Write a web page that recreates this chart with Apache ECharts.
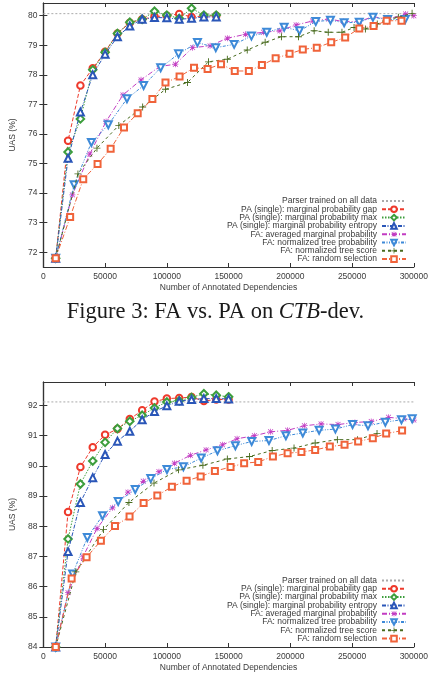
<!DOCTYPE html>
<html>
<head>
<meta charset="utf-8">
<script src="https://cdn.jsdelivr.net/npm/echarts@6/dist/echarts.min.js"></script>
<style>
  html, body { margin: 0; padding: 0; background: #fff; }
  #chart { width: 431px; height: 677px; }
</style>
</head>
<body>
<div id="chart"></div>
<script>
// ---- data ----
const xTicks = [0, 50000, 100000, 150000, 200000, 250000, 300000];
const yTicksTop = [72, 73, 74, 75, 76, 77, 78, 79, 80];
const yTicksBot = [84, 85, 86, 87, 88, 89, 90, 91, 92];

const seriesNames = [
  'Parser trained on all data',
  'PA (single): marginal probability gap',
  'PA (single): marginal probability max',
  'PA (single): marginal probability entropy',
  'FA: averaged marginal probability',
  'FA: normalized tree probability',
  'FA: normalized tree score',
  'FA: random selection'
];

// CTB-dev (upper panel)
const parserTop = 80.07;
const paXTop = [10000, 20000, 30000, 40000, 50000, 60000, 70000, 80000, 90000, 100000, 110000, 120000, 130000, 140000];
const gapTop = [71.8, 75.77, 77.64, 78.22, 78.78, 79.40, 79.76, 79.88, 79.97, 80.0, 80.06, 79.96, 79.99, 80.0];
const maxTop = [71.8, 75.39, 76.51, 78.17, 78.76, 79.40, 79.78, 79.88, 80.15, 80.02, 79.91, 80.25, 80.02, 80.02];
const entTop = [71.8, 75.18, 76.74, 78.0, 78.70, 79.29, 79.65, 79.88, 79.94, 79.93, 79.88, 79.91, 79.96, 79.96];
const avgXTop = [10000, 23500, 37600, 50800, 64500, 79100, 94200, 106900, 120900, 135000, 149000, 163700, 178300, 191500, 204700, 218000, 231200, 243100, 255800, 266900, 278800, 293400, 300000];
const avgTop = [71.8, 73.94, 75.32, 76.42, 77.32, 77.83, 78.28, 78.36, 78.92, 78.98, 79.24, 79.37, 79.44, 79.49, 79.69, 79.82, 79.89, 79.80, 79.80, 79.97, 79.88, 80.06, 80.0];
const probXTop = [10000, 24900, 38900, 52600, 67700, 81200, 95000, 109500, 124800, 139600, 154500, 168500, 180900, 195000, 207400, 220600, 232500, 243600, 255800, 266900, 278800, 293000];
const probTop = [71.8, 74.28, 75.71, 76.31, 77.19, 77.64, 78.24, 78.71, 79.09, 78.92, 79.03, 79.31, 79.44, 79.61, 79.49, 79.80, 79.85, 79.76, 79.78, 79.95, 79.87, 79.87];
const scoreXTop = [10000, 28000, 43400, 61100, 80400, 98900, 116700, 133700, 149000, 165100, 179600, 192800, 206600, 219300, 230700, 241800, 251600, 260800, 270400, 277500, 287500, 298600];
const scoreTop = [71.8, 74.65, 75.52, 76.29, 76.91, 77.51, 77.74, 78.44, 78.53, 78.84, 79.10, 79.29, 79.29, 79.49, 79.44, 79.44, 79.60, 79.55, 79.72, 79.84, 79.95, 80.08];
const randXTop = [10000, 21700, 32300, 43900, 54500, 65300, 76400, 88300, 98900, 110300, 122000, 133000, 143900, 155000, 166400, 177000, 188100, 199400, 210100, 221400, 233100, 244400, 255800, 267400, 278000, 290000];
const randTop = [71.8, 73.19, 74.47, 74.98, 75.50, 76.22, 76.70, 77.18, 77.74, 77.94, 78.24, 78.20, 78.36, 78.13, 78.13, 78.33, 78.56, 78.71, 78.86, 78.92, 79.10, 79.26, 79.57, 79.65, 79.83, 79.83];

// lower panel
const parserBot = 92.12;
const paXBot = [10000, 20000, 30000, 40000, 50000, 60000, 70000, 80000, 90000, 100000, 110000, 120000, 130000, 140000, 150000];
const gapBot = [84.0, 88.47, 89.96, 90.62, 91.03, 91.22, 91.55, 91.84, 92.13, 92.23, 92.25, 92.28, 92.15, 92.20, 92.20];
const maxBot = [84.0, 87.58, 89.40, 90.16, 90.78, 91.24, 91.48, 91.68, 91.92, 92.12, 92.16, 92.27, 92.39, 92.34, 92.29];
const entBot = [84.0, 87.16, 88.79, 89.61, 90.38, 90.82, 91.15, 91.53, 91.80, 91.99, 92.14, 92.20, 92.23, 92.23, 92.22];
const avgXBot = [10000, 20000, 32100, 43500, 56000, 68500, 80900, 93600, 106200, 119100, 131800, 145000, 156900, 170900, 184000, 197800, 211400, 224900, 238600, 252300, 265500, 279500, 291900, 300000];
const avgBot = [84.0, 85.80, 86.99, 87.93, 88.61, 89.13, 89.49, 89.81, 90.09, 90.35, 90.53, 90.70, 90.90, 91.0, 91.13, 91.18, 91.33, 91.39, 91.37, 91.44, 91.47, 91.61, 91.56, 91.52];
const probXBot = [10000, 23700, 35600, 47900, 60600, 74400, 87000, 100100, 113400, 127800, 141000, 155500, 168700, 182700, 196400, 210100, 223300, 236500, 250400, 262900, 276900, 290000, 298700];
const probBot = [84.0, 86.42, 87.63, 88.35, 88.82, 89.22, 89.58, 89.88, 89.97, 90.26, 90.50, 90.67, 90.81, 90.84, 91.0, 91.09, 91.18, 91.22, 91.37, 91.33, 91.45, 91.53, 91.56];
const scoreXBot = [10000, 26300, 48700, 69300, 89600, 109400, 129200, 149000, 166900, 185300, 203000, 220100, 238100, 254400, 270200];
const scoreBot = [84.0, 86.49, 87.89, 88.79, 89.43, 89.87, 90.02, 90.23, 90.31, 90.51, 90.59, 90.76, 90.87, 90.87, 91.07];
const randXBot = [10000, 22900, 35000, 46600, 58000, 69800, 81200, 92300, 104100, 116000, 127400, 138900, 151600, 162600, 174000, 185900, 197800, 209000, 220100, 232000, 243900, 254900, 266800, 277600, 290500];
const randBot = [84.0, 86.27, 86.97, 87.52, 88.01, 88.32, 88.77, 89.02, 89.31, 89.51, 89.65, 89.83, 89.96, 90.09, 90.13, 90.31, 90.42, 90.46, 90.53, 90.64, 90.70, 90.81, 90.92, 91.07, 91.17];

// ---- styles ----
const FONT = '"Liberation Sans", Arial, sans-serif';
const SERIF = '"Liberation Serif", "Times New Roman", serif';
const TXT = '#3a3a3a';
const ASTERISK = 'path://M4.4,0h1.2v10h-1.2z M0,4.4h10v1.2h-10z M0.5,1.35L1.35,0.5L9.5,8.65L8.65,9.5Z M8.65,0.5L9.5,1.35L1.35,9.5L0.5,8.65Z';
const PLUS = 'path://M4.35,0h1.3v10h-1.3z M0,4.35h10v1.3h-10z';

const looks = [
  { color: '#aaaaaa', dash: [2, 2], symbol: 'none' },
  { color: '#ee3a2c', dash: [4, 2], symbol: 'emptyCircle', size: 6.5 },
  { color: '#3c9e3c', dash: [1.5, 1.5], symbol: 'emptyDiamond', size: 7.5 },
  { color: '#2a56b8', dash: [4, 1.5, 1, 1.5], symbol: 'emptyTriangle', size: 7 },
  { color: '#c23cc2', dash: [5, 2, 1, 2], symbol: ASTERISK, size: 6, filled: true },
  { color: '#3e8ad8', dash: [3, 1.5, 1, 1.5, 1, 1.5], symbol: 'emptyTriangle', size: 7, rotate: 180 },
  { color: '#486b1e', dash: [3, 3], symbol: PLUS, size: 7, filled: true },
  { color: '#f0633a', dash: [5, 2, 1, 2], symbol: 'emptyRect', size: 6 }
];

function pairs(xs, ys) {
  return xs.map((x, i) => [x, ys[i]]);
}

function makeSeries(gridIdx, dataList) {
  return dataList.map((data, i) => {
    const lk = looks[i];
    return {
      name: seriesNames[i],
      type: 'line',
      xAxisIndex: gridIdx * 2,
      yAxisIndex: gridIdx * 2,
      data: data,
      symbol: lk.symbol,
      symbolSize: lk.size || 0,
      symbolRotate: lk.rotate || 0,
      showSymbol: lk.symbol !== 'none',
      color: lk.color,
      lineStyle: { color: lk.color, width: 1, type: lk.dash },
      itemStyle: lk.filled ? { color: lk.color } : { color: lk.color, borderColor: lk.color, borderWidth: 1 },
      emphasis: { disabled: true },
      animation: false,
      z: 2 + i
    };
  });
}

function axesFor(gridIdx, yMin, yMax, yTicks) {
  const frame = { show: true, lineStyle: { color: '#333', width: 1.2 } };
  const tick = (vals) => ({ show: true, inside: true, length: 4, lineStyle: { color: '#333' }, customValues: vals });
  const x = [
    {
      gridIndex: gridIdx, type: 'value', position: 'bottom', min: 0, max: 300000,
      axisLine: frame, axisTick: tick(xTicks), splitLine: { show: false },
      axisLabel: { customValues: xTicks, color: TXT, fontSize: 8.5, fontFamily: FONT, margin: 5, formatter: v => String(v) },
      name: 'Number of Annotated Dependencies', nameLocation: 'middle', nameGap: 16,
      nameTextStyle: { color: TXT, fontSize: 8.5, fontFamily: FONT }
    },
    {
      gridIndex: gridIdx, type: 'value', position: 'top', min: 0, max: 300000,
      axisLine: frame, axisTick: tick(xTicks), axisLabel: { show: false }, splitLine: { show: false }
    }
  ];
  const y = [
    {
      gridIndex: gridIdx, type: 'value', position: 'left', min: yMin, max: yMax,
      axisLine: frame, axisTick: tick(yTicks), splitLine: { show: false },
      axisLabel: { customValues: yTicks, color: TXT, fontSize: 8.5, fontFamily: FONT, margin: 6 },
      name: 'UAS (%)', nameLocation: 'middle', nameGap: 24, nameRotate: 90,
      nameTextStyle: { color: TXT, fontSize: 8.5, fontFamily: FONT }
    },
    {
      gridIndex: gridIdx, type: 'value', position: 'right', min: yMin, max: yMax,
      axisLine: frame, axisTick: tick(yTicks), axisLabel: { show: false }, splitLine: { show: false }
    }
  ];
  return { x, y };
}

function legendAt(top) {
  // the full-data baseline has no marker in the key
  const items = seriesNames.map((n, i) => i === 0 ? { name: n, itemStyle: { opacity: 0 } } : n);
  return {
    data: items,
    orient: 'vertical',
    right: 24,
    top: top,
    align: 'right',
    itemWidth: 24,
    itemHeight: 7,
    itemGap: -0.7,
    padding: 0,
    selectedMode: false,
    textStyle: { color: TXT, fontSize: 8.5, fontFamily: FONT, lineHeight: 8.33 }
  };
}

const topAxes = axesFor(0, 71.5, 80.43, yTicksTop);
const botAxes = axesFor(1, 84, 92.78, yTicksBot);

const topData = [
  [[0, parserTop], [300000, parserTop]],
  pairs(paXTop, gapTop), pairs(paXTop, maxTop), pairs(paXTop, entTop),
  pairs(avgXTop, avgTop), pairs(probXTop, probTop), pairs(scoreXTop, scoreTop), pairs(randXTop, randTop)
];
const botData = [
  [[0, parserBot], [300000, parserBot]],
  pairs(paXBot, gapBot), pairs(paXBot, maxBot), pairs(paXBot, entBot),
  pairs(avgXBot, avgBot), pairs(probXBot, probBot), pairs(scoreXBot, scoreBot), pairs(randXBot, randBot)
];

const chart = echarts.init(document.getElementById('chart'), null, { renderer: 'canvas' });
chart.setOption({
  backgroundColor: '#fff',
  animation: false,
  grid: [
    { left: 37, top: 3, width: 379, height: 264 },
    { left: 37, top: 382, width: 379, height: 265 }
  ],
  xAxis: topAxes.x.concat(botAxes.x),
  yAxis: topAxes.y.concat(botAxes.y),
  legend: [legendAt(196.5), legendAt(576)],
  series: makeSeries(0, topData).concat(makeSeries(1, botData)),
  graphic: [{
    type: 'text',
    left: 'center',
    top: 301,
    style: {
      text: '{n|Figure 3: FA vs. PA on }{i|CTB}{n|-dev.}',
      rich: {
        n: { fontFamily: SERIF, fontSize: 22.5, fill: '#1a1a1a' },
        i: { fontFamily: SERIF, fontSize: 22.5, fontStyle: 'italic', fill: '#1a1a1a' }
      }
    }
  }]
});
</script>
</body>
</html>
